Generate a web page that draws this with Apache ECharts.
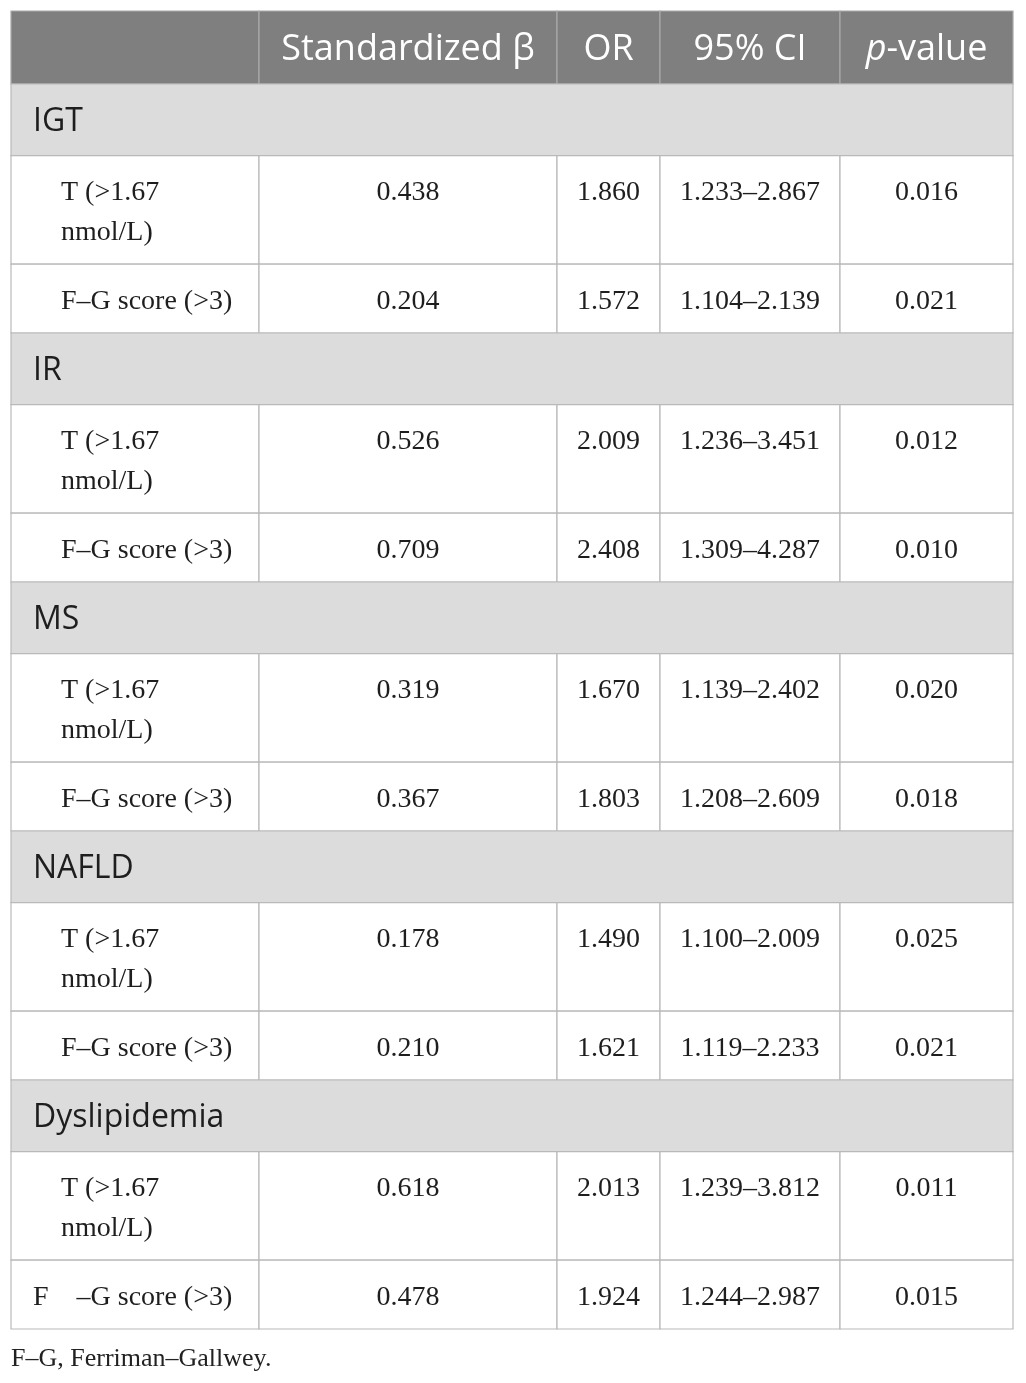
<!DOCTYPE html>
<html>
<head>
<meta charset="utf-8">
<title>Logistic regression table</title>
<script src="https://cdn.jsdelivr.net/npm/echarts@6/dist/echarts.min.js"></script>
<style>
  html, body { margin: 0; padding: 0; background: #fff; }
  #chart { width: 1026px; height: 1383px; }
</style>
</head>
<body>
<div id="chart"></div>
<script>
// Table content
var headers = ['', 'Standardized \u03b2', 'OR', '95% CI', '{i|p}-value'];
var groups = ['IGT', 'IR', 'MS', 'NAFLD', 'Dyslipidemia'];
var predictors = ['T (>1.67\nnmol/L)', 'F\u2013G score (>3)'];
var beta   = [[0.438, 0.204], [0.526, 0.709], [0.319, 0.367], [0.178, 0.210], [0.618, 0.478]];
var orVals = [[1.860, 1.572], [2.009, 2.408], [1.670, 1.803], [1.490, 1.621], [2.013, 1.924]];
var ciLow  = [[1.233, 1.104], [1.236, 1.309], [1.139, 1.208], [1.100, 1.119], [1.239, 1.244]];
var ciHigh = [[2.867, 2.139], [3.451, 4.287], [2.402, 2.609], [2.009, 2.233], [3.812, 2.987]];
var pVals  = [[0.016, 0.021], [0.012, 0.010], [0.020, 0.018], [0.025, 0.021], [0.011, 0.015]];
var footnote = 'F\u2013G, Ferriman\u2013Gallwey.';

// Layout (table units = pixels inside the grid)
var colEdges = [0, 248, 546, 649, 829, 1002];
var headerH = 73, groupH = 71.6, twoLineH = 108.6, oneLineH = 68.8;
var SANS = '"Open Sans", "Noto Sans", sans-serif';
var SERIF = '"Liberation Serif", "DejaVu Serif", serif';

function f3(v) { return v.toFixed(3); }

// build the cell list
var cells = [];
var y = 0;
headers.forEach(function (h, c) {
  cells.push({ kind: 'head', x0: colEdges[c], x1: colEdges[c + 1], y0: y, y1: y + headerH, text: h });
});
y += headerH;

groups.forEach(function (g, gi) {
  cells.push({ kind: 'group', x0: 0, x1: colEdges[colEdges.length - 1], y0: y, y1: y + groupH, text: g });
  y += groupH;
  predictors.forEach(function (p, pi) {
    var h = pi === 0 ? twoLineH : oneLineH;
    var label = p, indent = 50;
    // the source breaks the last label after the "F"
    if (gi === groups.length - 1 && pi === 1) {
      label = 'F\u00a0\u00a0\u00a0\u00a0\u2013G score (>3)';
      indent = 22;
    }
    var vals = [label, f3(beta[gi][pi]), f3(orVals[gi][pi]),
      f3(ciLow[gi][pi]) + '\u2013' + f3(ciHigh[gi][pi]), f3(pVals[gi][pi])];
    vals.forEach(function (t, c) {
      cells.push({ kind: 'body', x0: colEdges[c], x1: colEdges[c + 1], y0: y, y1: y + h,
        text: t, left: c === 0, indent: indent });
    });
    y += h;
  });
});
var tableH = y;

function renderCell(params, api) {
  var c = cells[params.dataIndex];
  var p0 = api.coord([api.value(0), api.value(1)]);
  var p1 = api.coord([api.value(2), api.value(3)]);
  var w = p1[0] - p0[0], h = p1[1] - p0[1];
  var fill = '#fff', stroke = '#b9b9b9';
  var ts;
  if (c.kind === 'head') {
    fill = '#7f7f7f'; stroke = '#a9a9a9';
    ts = { text: c.text, x: p0[0] + w / 2, y: p0[1] + h / 2 + 2, align: 'center', verticalAlign: 'middle',
      fontSize: 36, fontFamily: SANS, fill: '#fff',
      rich: { i: { fontStyle: 'italic', fontSize: 36, fontFamily: SANS, fill: '#fff' } } };
  } else if (c.kind === 'group') {
    fill = '#dcdcdc';
    ts = { text: c.text, x: p0[0] + 22, y: p0[1] + h / 2 + 2, align: 'left', verticalAlign: 'middle',
      fontSize: 32, fontFamily: SANS, fill: '#1e1e1e' };
  } else {
    ts = { text: c.text, x: c.left ? p0[0] + c.indent : p0[0] + w / 2, y: p0[1] + 17,
      align: c.left ? 'left' : 'center', verticalAlign: 'top', lineHeight: 40,
      fontSize: 28, fontFamily: SERIF, fill: '#1e1e1e' };
  }
  return {
    type: 'group',
    children: [
      { type: 'rect', shape: { x: p0[0], y: p0[1], width: w, height: h },
        style: { fill: fill, stroke: stroke, lineWidth: 1.2 } },
      { type: 'text', style: ts }
    ]
  };
}

var chart = echarts.init(document.getElementById('chart'), null, { renderer: 'canvas' });
chart.setOption({
  animation: false,
  backgroundColor: '#fff',
  title: {
    text: footnote, left: 6, top: 1341,
    textStyle: { fontFamily: SERIF, fontSize: 26, fontWeight: 'normal', color: '#222' }
  },
  grid: { left: 11, top: 11, width: colEdges[colEdges.length - 1], height: tableH },
  xAxis: { type: 'value', min: 0, max: colEdges[colEdges.length - 1], show: false },
  yAxis: { type: 'value', min: 0, max: tableH, inverse: true, show: false },
  series: [{
    type: 'custom',
    silent: true,
    renderItem: renderCell,
    encode: { x: [0, 2], y: [1, 3] },
    data: cells.map(function (c) { return [c.x0, c.y0, c.x1, c.y1]; })
  }]
});
</script>
</body>
</html>
